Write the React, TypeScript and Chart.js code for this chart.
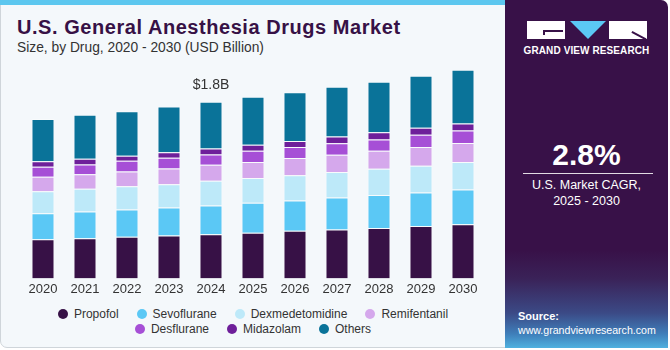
import React, { useEffect, useRef } from "react";
import { Chart, registerables } from "chart.js";

Chart.register(...registerables);

const years = ["2020", "2021", "2022", "2023", "2024", "2025", "2026", "2027", "2028", "2029", "2030"];
const propofol = [0.40, 0.41, 0.425, 0.438, 0.451, 0.466, 0.486, 0.499, 0.513, 0.533, 0.553];
const sevoflurane = [0.265, 0.272, 0.278, 0.285, 0.292, 0.306, 0.309, 0.326, 0.336, 0.343, 0.354];
const dexmedetomidine = [0.224, 0.231, 0.237, 0.237, 0.252, 0.251, 0.255, 0.258, 0.269, 0.272, 0.278];
const remifentanil = [0.146, 0.149, 0.15, 0.16, 0.163, 0.163, 0.176, 0.177, 0.183, 0.19, 0.194];
const desflurane = [0.102, 0.099, 0.109, 0.109, 0.105, 0.116, 0.112, 0.118, 0.115, 0.126, 0.129];
const midazolam = [0.058, 0.058, 0.051, 0.057, 0.061, 0.061, 0.061, 0.068, 0.074, 0.071, 0.071];
const others = [0.428, 0.448, 0.454, 0.466, 0.476, 0.489, 0.499, 0.506, 0.514, 0.53, 0.547];

const seriesNames = ["Propofol", "Sevoflurane", "Dexmedetomidine", "Remifentanil", "Desflurane", "Midazolam", "Others"];
const seriesValues = [propofol, sevoflurane, dexmedetomidine, remifentanil, desflurane, midazolam, others];
const seriesColors = ["#371146", "#5BC8F5", "#BDE9F9", "#D5A8EC", "#A64FD6", "#6E1F9A", "#0A7399"];

const legendRow1 = [0, 1, 2, 3];
const legendRow2 = [4, 5, 6];

const highlightIndex = 4;
const highlightLabel = "$1.8B";

const FONT = '"Liberation Sans", Arial, Helvetica, sans-serif';

const labelPlugin = {
  id: "totalLabel",
  afterDatasetsDraw(chart: any) {
    const meta = chart.getDatasetMeta(chart.data.datasets.length - 1);
    const el = meta.data[highlightIndex];
    if (!el) return;
    const ctx = chart.ctx;
    ctx.save();
    ctx.font = `14px ${FONT}`;
    ctx.fillStyle = "#333333";
    ctx.textAlign = "center";
    ctx.textBaseline = "middle";
    ctx.fillText(highlightLabel, el.x, el.y - 17);
    ctx.restore();
  },
};

export default function App() {
  const canvasRef = useRef<HTMLCanvasElement | null>(null);

  useEffect(() => {
    if (!canvasRef.current) return;
    const chart = new Chart(canvasRef.current, {
      type: "bar",
      data: {
        labels: years,
        datasets: seriesNames.map((name, i) => ({
          label: name,
          data: seriesValues[i],
          backgroundColor: seriesColors[i],
          borderColor: "rgba(255,255,255,0.4)",
          borderWidth: 1,
          barPercentage: 0.548,
          categoryPercentage: 1,
        })),
      },
      options: {
        animation: false,
        responsive: false,
        maintainAspectRatio: false,
        layout: { padding: { left: 22, right: 16, top: 22.5, bottom: 0 } },
        plugins: {
          legend: { display: false },
          tooltip: { enabled: false },
        },
        scales: {
          x: {
            stacked: true,
            grid: { display: false, drawTicks: false },
            border: { display: false },
            ticks: { color: "#333333", font: { family: FONT, size: 13 }, padding: 3 },
          },
          y: {
            stacked: true,
            display: false,
            min: 0,
            max: 2.2,
          },
        },
      },
      plugins: [labelPlugin],
    });
    return () => chart.destroy();
  }, []);

  const legendItem = (i: number) => (
    <div key={i} style={{ display: "flex", alignItems: "center" }}>
      <span
        style={{
          width: 10,
          height: 10,
          borderRadius: "50%",
          background: seriesColors[i],
          display: "inline-block",
          marginRight: 6,
        }}
      />
      <span>{seriesNames[i]}</span>
    </div>
  );

  return (
    <div
      style={{
        position: "absolute",
        left: 0,
        top: 0,
        width: 670,
        height: 350,
        background: "#ffffff",
        fontFamily: FONT,
        overflow: "hidden",
      }}
    >
      {/* main light area */}
      <div
        style={{
          position: "absolute",
          left: 0,
          top: 0,
          width: 520,
          height: 348,
          background: "#F4F8FB",
          border: "1px solid #cfd5da",
          borderRadius: "0 0 0 7px",
          boxSizing: "border-box",
        }}
      />
      <div style={{ position: "absolute", left: 0, top: 0, width: 520, height: 5, background: "#5CC7EF" }} />

      {/* title */}
      <div
        style={{
          position: "absolute",
          left: 17,
          top: 15.4,
          fontSize: 20,
          lineHeight: "24px",
          fontWeight: 700,
          letterSpacing: 0.55,
          color: "#371146",
          whiteSpace: "nowrap",
        }}
      >
        U.S. General Anesthesia Drugs Market
      </div>
      <div
        style={{
          position: "absolute",
          left: 17,
          top: 40.2,
          fontSize: 13.8,
          lineHeight: "16px",
          color: "#333333",
          whiteSpace: "nowrap",
        }}
      >
        Size, by Drug, 2020 - 2030 (USD Billion)
      </div>

      {/* chart */}
      <canvas
        ref={canvasRef}
        width={500}
        height={260}
        style={{ position: "absolute", left: 0, top: 40, width: 500, height: 260 }}
      />

      {/* legend */}
      <div
        style={{
          position: "absolute",
          left: 0,
          top: 306.3,
          width: 506,
          fontSize: 12,
          lineHeight: "14px",
          color: "#333333",
        }}
      >
        <div style={{ display: "flex", justifyContent: "center", gap: 18, height: 15.7 }}>
          {legendRow1.map(legendItem)}
        </div>
        <div style={{ display: "flex", justifyContent: "center", gap: 18 }}>{legendRow2.map(legendItem)}</div>
      </div>

      {/* right panel */}
      <div
        style={{
          position: "absolute",
          left: 505,
          top: 0,
          width: 163,
          height: 348,
          borderRadius: "0 7px 0 0",
          background:
            "linear-gradient(to bottom, #381148 0%, #381148 72%, #3a2258 80%, #3b4a86 90%, #3f7fba 96%, #4fb1df 100%)",
          color: "#ffffff",
          overflow: "hidden",
        }}
      >
        {/* logo */}
        <div style={{ position: "absolute", left: 22, top: 21, width: 38, height: 18, background: "#ffffff" }}>
          <div style={{ position: "absolute", left: 16, top: 9, width: 20, height: 1.5, background: "#381148" }} />
          <div style={{ position: "absolute", left: 16, top: 9, width: 1.5, height: 5, background: "#381148" }} />
        </div>
        <div
          style={{
            position: "absolute",
            left: 65,
            top: 21,
            width: 0,
            height: 0,
            borderLeft: "18px solid transparent",
            borderRight: "18px solid transparent",
            borderTop: "18px solid #5BC8F5",
          }}
        />
        <div style={{ position: "absolute", left: 104, top: 21, width: 38, height: 18, background: "#ffffff" }}>
          <div
            style={{
              position: "absolute",
              left: 23,
              top: 10,
              width: 16,
              height: 1.5,
              background: "#381148",
              transform: "rotate(28deg)",
              transformOrigin: "left center",
            }}
          />
        </div>
        <div
          style={{
            position: "absolute",
            left: 0,
            top: 44,
            width: 163,
            textAlign: "center",
            fontSize: 10,
            lineHeight: "14px",
            fontWeight: 700,
            letterSpacing: 0.1,
          }}
        >
          GRAND VIEW RESEARCH
        </div>

        <div
          style={{
            position: "absolute",
            left: 0,
            top: 137,
            width: 163,
            textAlign: "center",
            fontSize: 30,
            lineHeight: "36px",
            fontWeight: 700,
          }}
        >
          2.8%
        </div>
        <div
          style={{ position: "absolute", left: 18, top: 173, width: 130, height: 1, background: "rgba(255,255,255,0.85)" }}
        />
        <div
          style={{
            position: "absolute",
            left: 0,
            top: 177,
            width: 163,
            textAlign: "center",
            fontSize: 12.5,
            lineHeight: "16px",
          }}
        >
          U.S. Market CAGR,
          <br />
          2025 - 2030
        </div>

        <div style={{ position: "absolute", left: 13, top: 309, fontSize: 11, lineHeight: "14px", fontWeight: 700 }}>
          Source:
        </div>
        <div style={{ position: "absolute", left: 13, top: 323, fontSize: 10.6, lineHeight: "14px", whiteSpace: "nowrap" }}>
          www.grandviewresearch.com
        </div>
      </div>
    </div>
  );
}
